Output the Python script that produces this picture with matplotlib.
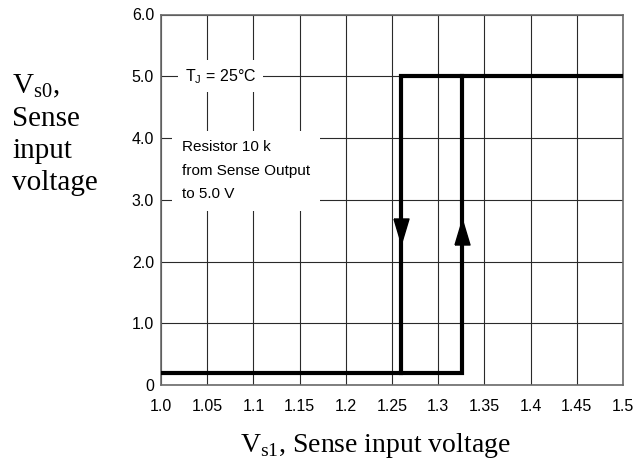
import matplotlib.pyplot as plt
from matplotlib.ticker import FixedLocator

# data
x_ticks = [1.0, 1.05, 1.1, 1.15, 1.2, 1.25, 1.3, 1.35, 1.4, 1.45, 1.5]
x_tick_labels = ["1.0", "1.05", "1.1", "1.15", "1.2", "1.25", "1.3", "1.35", "1.4", "1.45", "1.5"]
y_ticks = [0, 1, 2, 3, 4, 5, 6]
y_tick_labels = ["0", "1.0", "2.0", "3.0", "4.0", "5.0", "6.0"]

# falling edge (high -> low) and rising edge (low -> high)
v_low = 0.2
v_high = 5.0
v_fall = 1.26
v_rise = 1.326
x_min, x_max = 1.0, 1.5

high_x = [x_max, v_fall, v_fall]
high_y = [v_high, v_high, v_low]
low_x = [x_min, v_rise, v_rise]
low_y = [v_low, v_low, v_high]

arrow_down_y = 2.5
arrow_up_y = 2.48

plt.rcParams['font.family'] = ['Liberation Sans', 'DejaVu Sans']

fig = plt.figure(figsize=(6.39, 4.63), dpi=100)
ax = fig.add_axes([161 / 639, 1 - 385 / 463, (623 - 161) / 639, (385 - 14.5) / 463])

ax.set_xlim(x_min, x_max)
ax.set_ylim(0, 6)
ax.xaxis.set_major_locator(FixedLocator(x_ticks))
ax.yaxis.set_major_locator(FixedLocator(y_ticks))
ax.set_xticklabels(x_tick_labels, fontsize=11.5)
ax.set_yticklabels(y_tick_labels, fontsize=11.5)
ax.tick_params(axis='x', length=0, pad=10)
ax.tick_params(axis='y', length=0, pad=5)
ax.grid(True, color='#2a2a2a', lw=0.8)
ax.set_axisbelow(True)
for s in ax.spines.values():
    s.set_color('#6a6a6a')
    s.set_linewidth(1.2)

ax.plot(high_x, high_y, color='black', lw=3, solid_joinstyle='miter', zorder=3)
ax.plot(low_x, low_y, color='black', lw=3, solid_joinstyle='miter', zorder=3)

down_tri = [(-0.3, 0.5), (0.3, 0.5), (0, -0.5), (-0.3, 0.5)]
up_tri = [(-0.3, -0.5), (0.3, -0.5), (0, 0.5), (-0.3, -0.5)]
ax.plot([v_fall], [arrow_down_y], marker=down_tri, ms=18, color='black', zorder=4)
ax.plot([v_rise], [arrow_up_y], marker=up_tri, ms=18, color='black', zorder=4)

ax.text(1.026, 5.0, r"T$_\mathregular{J}$ = 25°C", fontsize=11.5, va='center', ha='left',
        bbox=dict(facecolor='white', edgecolor='none', pad=5), zorder=2)
ax.text(1.023, 3.47, "Resistor 10 k\nfrom Sense Output\nto 5.0 V", fontsize=11,
        va='center', ha='left', linespacing=1.85,
        bbox=dict(facecolor='white', edgecolor='none', pad=7), zorder=2)

serif = ['Liberation Serif', 'DejaVu Serif']
fig.text(12 / 639, 1 - 134 / 463, "V$_\\mathregular{s0}$,\nSense\ninput\nvoltage",
         fontsize=21, family=serif, ha='left', va='center', linespacing=1.3)
fig.text(375 / 639, 1 - 446 / 463, "V$_\\mathregular{s1}$, Sense input voltage",
         fontsize=20, family=serif, ha='center', va='center')

fig.savefig("out.png", dpi=100)
